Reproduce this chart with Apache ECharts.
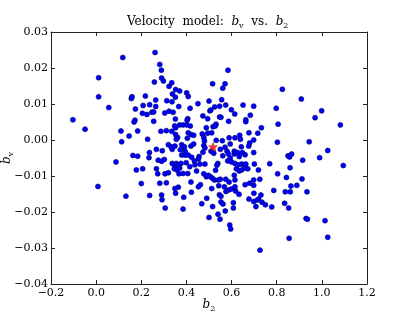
<!DOCTYPE html>
<html><head><meta charset="utf-8">
<script src="https://cdn.jsdelivr.net/npm/echarts@6/dist/echarts.min.js"></script>
<style>html,body{margin:0;padding:0;background:#fff}#c{width:407px;height:316px}</style>
</head><body><div id="c"></div>
<script>
// b2 (x) and b_v (y) values of the sample points
const b2Values = [
0.118,0.261,0.282,0.289,0.290,0.298,0.258,0.011,0.011,0.056,-0.103,0.323,0.335,0.352,0.370,0.338,0.351,0.401,0.408,0.156,
0.159,0.218,0.264,0.313,0.336,0.208,0.237,0.264,0.174,0.366,0.416,0.451,0.500,0.504,0.473,0.494,0.205,0.225,0.247,0.255,
0.304,0.323,0.341,0.172,0.255,0.351,0.406,0.403,
0.584,0.516,0.571,0.561,0.825,0.909,0.556,0.525,0.547,0.574,0.508,0.599,0.651,0.698,0.614,0.683,0.798,0.999,0.970,0.547,
0.553,0.587,0.663,
-0.049,0.168,0.110,0.184,0.146,0.113,0.228,0.348,0.352,0.370,0.385,0.401,0.417,0.488,0.236,0.234,0.163,0.184,0.088,0.206,
0.178,
0.663,0.518,0.531,0.528,0.806,1.082,0.716,0.732,0.803,0.944,0.850,0.857,0.866,0.915,0.990,1.026,1.095,0.719,0.769,0.859,
0.804,
0.008,0.132,0.200,0.237,0.290,0.292,0.306,0.352,0.388,0.385,0.422,0.468,0.490,0.500,
0.546,0.553,0.553,0.562,0.540,0.549,0.572,0.575,0.587,0.599,0.618,0.633,0.608,0.608,0.592,0.596,0.677,0.699,0.698,0.713,
0.720,0.730,0.735,0.708,0.750,0.778,0.725,0.843,0.787,0.838,0.860,0.863,0.889,0.912,0.934,0.835,0.853,0.930,0.936,1.014,
0.516,0.543,0.634,0.645,0.529,
0.726,0.855,1.026,
0.287,0.311,0.335,0.352,0.361,0.355,0.408,0.420,0.432,0.470,0.477,0.512,0.559,0.589,0.615,0.636,0.639,0.677,0.680,0.698,
0.267,0.293,0.320,0.332,0.337,0.349,0.379,0.391,0.420,0.432,0.477,0.482,0.509,0.521,0.550,0.571,0.580,0.586,0.594,0.612,
0.612,0.627,0.648,0.660,0.698,0.275,0.290,0.302,0.379,0.394,0.408,0.423,0.456,0.337,0.346,0.355,0.364,0.370,0.376,0.346,
0.358,0.399,0.415,0.435,0.438,0.482,0.539,0.535,0.583,0.594,0.600,0.615,0.630,0.645,0.657,0.663,0.701,0.621,0.660,0.672,
0.267,0.273,0.305,0.320,0.282,0.311,0.367,0.385,0.406,0.420,0.462,0.477,0.488,0.497,0.506,0.515,0.524,0.541,0.550,0.574,
0.589,0.612,0.615,0.660,0.680,0.698,0.698,0.568,0.615,0.453,0.364,0.512,0.349,
0.494,0.480,0.473,0.404,0.373,0.394,0.532,0.643,0.676,0.561,0.634,0.453,0.460,0.445
];
const bvValues = [
0.0229,0.0243,0.0210,0.0194,0.0172,0.0164,0.0161,0.0173,0.0120,0.0090,0.0056,0.0149,0.0159,0.0140,0.0136,0.0128,0.0119,0.0131,0.0121,0.0115,
0.0120,0.0122,0.0111,0.0109,0.0106,0.0096,0.0098,0.0093,0.0086,0.0093,0.0088,0.0101,0.0108,0.0081,0.0067,0.0059,0.0074,0.0071,0.0077,0.0078,
0.0075,0.0080,0.0077,0.0055,0.0052,0.0058,0.0059,0.0055,
0.0194,0.0156,0.0156,0.0144,0.0141,0.0114,0.0112,0.0092,0.0094,0.0097,0.0083,0.0084,0.0097,0.0094,0.0072,0.0069,0.0088,0.0081,0.0062,0.0064,
0.0063,0.0052,0.0056,
0.0030,0.0050,0.0025,0.0025,0.0011,-0.0005,0.0002,0.0039,0.0034,0.0042,0.0042,0.0042,0.0039,0.0034,-0.0035,-0.0049,-0.0043,-0.0045,-0.0061,-0.0080,
-0.0083,
0.0051,0.0037,0.0044,0.0039,0.0044,0.0042,0.0019,0.0034,-0.0006,-0.0005,-0.0044,-0.0047,-0.0039,-0.0056,-0.0049,-0.0029,-0.0071,-0.0083,-0.0066,-0.0077,
-0.0094,
-0.0129,-0.0156,-0.0121,-0.0154,-0.0153,-0.0166,-0.0189,-0.0148,-0.0159,-0.0192,-0.0145,-0.0177,-0.0162,-0.0215,
-0.0152,-0.0156,-0.0172,-0.0178,-0.0206,-0.0220,-0.0197,-0.0143,-0.0139,-0.0136,-0.0142,-0.0151,-0.0174,-0.0189,-0.0236,-0.0247,-0.0164,-0.0148,-0.0171,-0.0167,
-0.0164,-0.0153,-0.0173,-0.0185,-0.0180,-0.0186,-0.0109,-0.0104,-0.0140,-0.0144,-0.0144,-0.0128,-0.0126,-0.0108,-0.0144,-0.0176,-0.0189,-0.0218,-0.0220,-0.0224,
-0.0185,-0.0127,-0.0086,-0.0083,-0.0084,
-0.0306,-0.0273,-0.0270,
0.0024,0.0026,0.0024,0.0015,0.0007,0.0002,0.0020,0.0015,0.0013,0.0017,0.0007,0.0020,-0.0002,0.0006,0.0006,0.0013,0.0002,0.0020,-0.0008,0.0000,
-0.0026,-0.0030,-0.0013,-0.0019,-0.0026,-0.0017,-0.0013,-0.0019,-0.0017,-0.0011,-0.0015,-0.0022,-0.0031,-0.0037,-0.0026,-0.0020,-0.0031,-0.0039,-0.0011,-0.0031,
-0.0039,-0.0035,-0.0035,-0.0041,-0.0035,-0.0056,-0.0059,-0.0054,-0.0042,-0.0042,-0.0042,-0.0048,-0.0046,-0.0065,-0.0069,-0.0065,-0.0070,-0.0078,-0.0065,-0.0080,
-0.0083,-0.0063,-0.0074,-0.0058,-0.0069,-0.0067,-0.0065,-0.0070,-0.0058,-0.0050,-0.0061,-0.0065,-0.0069,-0.0067,-0.0069,-0.0067,-0.0067,-0.0080,-0.0078,-0.0080,
-0.0080,-0.0094,-0.0094,-0.0091,-0.0120,-0.0119,-0.0094,-0.0093,-0.0093,-0.0117,-0.0124,-0.0094,-0.0102,-0.0098,-0.0102,-0.0106,-0.0111,-0.0111,-0.0109,-0.0109,
-0.0117,-0.0098,-0.0111,-0.0124,-0.0120,-0.0111,-0.0126,-0.0130,-0.0130,-0.0130,-0.0131,-0.0135,-0.0135,
0.0019,-0.0003,-0.0034,0.0005,-0.0027,-0.0031,-0.0001,-0.0019,-0.0017,-0.0044,-0.0046,-0.0053,-0.0067,-0.0086
];
// fiducial (true) model point
const fiducialB2 = [0.518];
const fiducialBv = [-0.0019];
// axis ticks
const xTickValues = [-0.2, 0.0, 0.2, 0.4, 0.6, 0.8, 1.0, 1.2];
const xTickLabels = ['\u22120.2', '0.0', '0.2', '0.4', '0.6', '0.8', '1.0', '1.2'];
const yTickValues = [-0.04, -0.03, -0.02, -0.01, 0.00, 0.01, 0.02, 0.03];
const yTickLabels = ['\u22120.04', '\u22120.03', '\u22120.02', '\u22120.01', '0.00', '0.01', '0.02', '0.03'];

function lookup(vals, labels, v) {
  for (let i = 0; i < vals.length; i++) if (Math.abs(vals[i] - v) < 1e-9) return labels[i];
  return '';
}
const FONT = 'DejaVu Serif';
const rich = {
  n: {fontFamily: FONT, fontSize: 12, color: '#000', lineHeight: 16},
  i: {fontFamily: FONT, fontSize: 12, fontStyle: 'italic', color: '#000', lineHeight: 16},
  s: {fontFamily: FONT, fontSize: 8, color: '#000', lineHeight: 10, padding: [7, 0, 0, 0]}
};
const points = b2Values.map((x, k) => [x, bvValues[k]]);
const fid = fiducialB2.map((x, k) => [x, fiducialBv[k]]);

const chart = echarts.init(document.getElementById('c'), null, {renderer: 'canvas'});
const axisCommon = {
  axisLine: {show: true, onZero: false, lineStyle: {color: '#222', width: 1}},
  axisTick: {show: true, inside: true, length: 4, lineStyle: {color: '#222', width: 1}},
  splitLine: {show: false}
};
chart.setOption({
  animation: false,
  backgroundColor: '#fff',
  title: {
    text: '{n|Velocity  model:  }{i|b}{s|v}{n|  vs.  }{i|b}{s|2}',
    left: 127, top: 14, padding: 0,
    textStyle: {rich: rich, fontSize: 12, fontFamily: FONT, fontWeight: 'normal'}
  },
  grid: {left: 51, right: 40, top: 32, bottom: 32, containLabel: false, outerBoundsMode: 'none'},
  xAxis: [
    Object.assign({
      type: 'value', min: -0.2, max: 1.2, interval: 0.2, position: 'bottom',
      name: '{i|b}{s|2}', nameLocation: 'middle', nameGap: 13, nameMoveOverlap: false,
      nameTextStyle: {rich: rich},
      axisLabel: {margin: 4, color: '#000', fontFamily: FONT, fontSize: 11,
        formatter: v => lookup(xTickValues, xTickLabels, v)}
    }, axisCommon),
    Object.assign({
      type: 'value', min: -0.2, max: 1.2, interval: 0.2, position: 'top',
      axisLabel: {show: false}
    }, axisCommon)
  ],
  yAxis: [
    Object.assign({
      type: 'value', min: -0.04, max: 0.03, interval: 0.01, position: 'left',
      name: '{i|b}{s|v}', nameLocation: 'middle', nameGap: 36, nameRotate: 90, nameMoveOverlap: false,
      nameTextStyle: {rich: rich},
      axisLabel: {margin: 3, color: '#000', fontFamily: FONT, fontSize: 11,
        formatter: v => lookup(yTickValues, yTickLabels, v)}
    }, axisCommon),
    Object.assign({
      type: 'value', min: -0.04, max: 0.03, interval: 0.01, position: 'right',
      axisLabel: {show: false}
    }, axisCommon)
  ],
  series: [
    {
      type: 'scatter', data: points, symbol: 'circle', symbolSize: 5, silent: true,
      itemStyle: {color: '#0000ff', borderColor: '#00006a', borderWidth: 0.6, opacity: 1}
    },
    {
      type: 'scatter', data: fid, silent: true, z: 5,
      symbol: 'path://M0,-10 L2.35,-3.24 L9.51,-3.09 L3.8,1.24 L5.88,8.09 L0,4 L-5.88,8.09 L-3.8,1.24 L-9.51,-3.09 L-2.35,-3.24 Z',
      symbolSize: 9,
      itemStyle: {color: '#ff0000', borderColor: '#800000', borderWidth: 0.5}
    }
  ]
});
</script>
</body></html>
